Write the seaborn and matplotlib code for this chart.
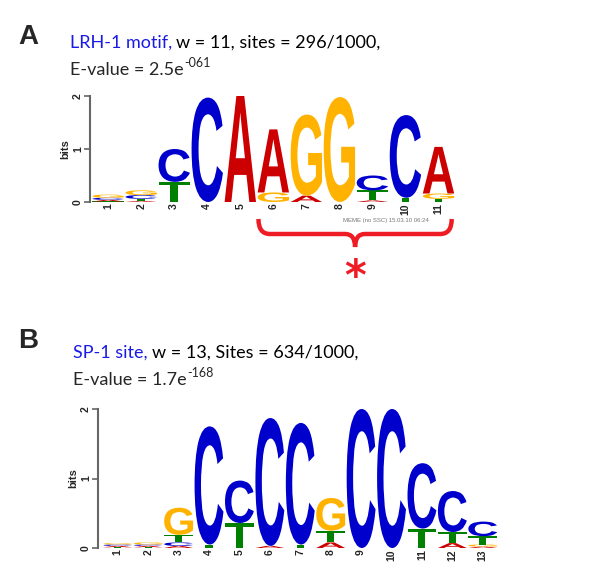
import numpy as np
import matplotlib
matplotlib.use('Agg')
import matplotlib.pyplot as plt
import matplotlib.transforms as mtransforms
from matplotlib.textpath import TextPath
from matplotlib.patches import PathPatch
from matplotlib.path import Path
from matplotlib.font_manager import FontProperties
import seaborn as sns

sns.set_style('ticks')
plt.rcParams['font.family'] = ['Liberation Sans', 'DejaVu Sans']

# letter heights (bits) per position
letters = ['A', 'C', 'G', 'T']
colors = {'A': '#cc0000', 'C': '#0000cc', 'G': '#ffb300', 'T': '#008000'}

lrh_A = [0.03, 0.02, 0, 0, 2.0, 1.19, 0.12, 0, 0.03, 0, 0.88]
lrh_C = [0.04, 0.07, 0.62, 1.97, 0, 0, 0, 0, 0.28, 1.56, 0]
lrh_G = [0.06, 0.09, 0, 0, 0, 0.18, 1.53, 1.98, 0, 0, 0.10]
lrh_T = [0.01, 0.04, 0.38, 0, 0, 0, 0, 0, 0.19, 0.08, 0.06]

sp1_A = [0.02, 0.02, 0.03, 0, 0, 0.03, 0, 0.08, 0, 0, 0, 0.07, 0.02]
sp1_C = [0.02, 0.02, 0.05, 1.70, 0.61, 1.84, 1.75, 0, 2.0, 2.0, 0.94, 0.59, 0.21]
sp1_G = [0.02, 0.03, 0.39, 0, 0, 0, 0, 0.47, 0, 0, 0, 0, 0.03]
sp1_T = [0.01, 0.01, 0.11, 0.05, 0.36, 0, 0.05, 0.17, 0, 0, 0.28, 0.16, 0.12]

W, H = 600, 564
fig = plt.figure(figsize=(W / 100, H / 100), dpi=100)
glyph_font = FontProperties(family='Liberation Sans', weight='bold')


def px_axes(left, right, top, bottom):
    return fig.add_axes([left / W, 1 - bottom / H, (right - left) / W, (bottom - top) / H])


def draw_letter(ax, ch, x, y0, h, width=0.95):
    tp = TextPath((0, 0), ch, size=1, prop=glyph_font)
    bb = tp.get_extents()
    tr = (mtransforms.Affine2D().translate(-bb.x0, -bb.y0)
          .scale(width / bb.width, h / bb.height)
          .translate(x - width / 2, y0))
    ax.add_patch(PathPatch(tr.transform_path(tp), facecolor=colors[ch],
                           edgecolor='none', transform=ax.transData))


def logo(ax, heights, xlim):
    n = len(heights['A'])
    for i in range(n):
        stack = sorted([(heights[l][i], l) for l in letters])
        y = 0
        for h, l in stack:
            if h > 0:
                draw_letter(ax, l, i + 1, y, h)
                y += h
    ax.set_xlim(*xlim)
    ax.set_ylim(0, 2)
    sns.despine(ax=ax, bottom=True)
    ax.spines['left'].set_color('#666666')
    ax.spines['left'].set_linewidth(1.5)
    ax.spines['left'].set_bounds(0, 2)
    ax.set_yticks([0, 1, 2])
    ax.set_xticks(range(1, n + 1))
    ax.tick_params(axis='y', labelsize=7.5, length=4, width=1.2, color='#666666', pad=1)
    ax.tick_params(axis='x', labelsize=7.5, length=0, pad=1)
    for lbl in ax.get_yticklabels():
        lbl.set_rotation(90)
        lbl.set_va('center')
        lbl.set_fontweight('bold')
    for lbl in ax.get_xticklabels():
        lbl.set_rotation(90)
        lbl.set_fontweight('bold')
    ax.set_ylabel('bits', fontsize=8, fontweight='bold', labelpad=2)
    ax.patch.set_alpha(0)


axA = px_axes(90, 455, 96, 202)
logo(axA, {'A': lrh_A, 'C': lrh_C, 'G': lrh_G, 'T': lrh_T}, (0.45, 11.5))

axB = px_axes(98, 498, 409, 548)
logo(axB, {'A': sp1_A, 'C': sp1_C, 'G': sp1_G, 'T': sp1_T}, (0.35, 13.5))

renderer = fig.canvas.get_renderer()
head_font = ['Lato', 'DejaVu Sans']


def ftext(x, y, s, **kw):
    return fig.text(x / W, 1 - y / H, s, **kw)


def header(x, y1, y2, name, rest, evalue, exponent):
    t = ftext(x, y1, name, color='#1a1ae6', fontsize=13, family=head_font)
    x2 = t.get_window_extent(renderer).x1
    ftext(x2 + 4, y1, rest, color='black', fontsize=13, family=head_font)
    e = ftext(x, y2, 'E-value = ' + evalue + 'e', fontsize=13, family=head_font)
    x3 = e.get_window_extent(renderer).x1
    ftext(x3 + 1, y2 - 8, exponent, fontsize=9, family=head_font)


ftext(18, 44, 'A', fontsize=20, fontweight='bold')
header(70, 48, 75, 'LRH-1 motif,', 'w = 11, sites = 296/1000,', '2.5', '-061')

ftext(18, 348, 'B', fontsize=20, fontweight='bold')
header(73, 358, 385, 'SP-1 site,', 'w = 13, Sites = 634/1000,', '1.7', '-168')

ftext(343, 222, 'MEME (no SSC) 15.03.10 06:24', fontsize=4.3, color='#777777')

# curly bracket under positions 6-11
bt = mtransforms.blended_transform_factory(axA.transData, fig.transFigure)
xl, xr = 5.55, 11.4
xm = (xl + xr) / 2
yt, ym, yb = 1 - 219 / H, 1 - 234 / H, 1 - 247 / H
verts = [(xl, yt), (xl, ym), (xl + 0.35, ym), (xm - 0.3, ym), (xm, ym), (xm, yb),
         (xm, ym), (xm + 0.3, ym), (xr - 0.35, ym), (xr, ym), (xr, yt)]
codes = [Path.MOVETO, Path.CURVE3, Path.CURVE3, Path.LINETO, Path.CURVE3, Path.CURVE3,
         Path.CURVE3, Path.CURVE3, Path.LINETO, Path.CURVE3, Path.CURVE3]
fig.add_artist(PathPatch(Path(verts, codes), facecolor='none', edgecolor='#ee1c24',
                         linewidth=3.2, transform=bt, capstyle='butt'))
fig.text(xm, 1 - 290 / H, '*', transform=bt, color='#ee1c24', fontsize=30,
         fontweight='bold', ha='center', va='baseline', family='DejaVu Sans')

fig.savefig('out.png', dpi=100)
